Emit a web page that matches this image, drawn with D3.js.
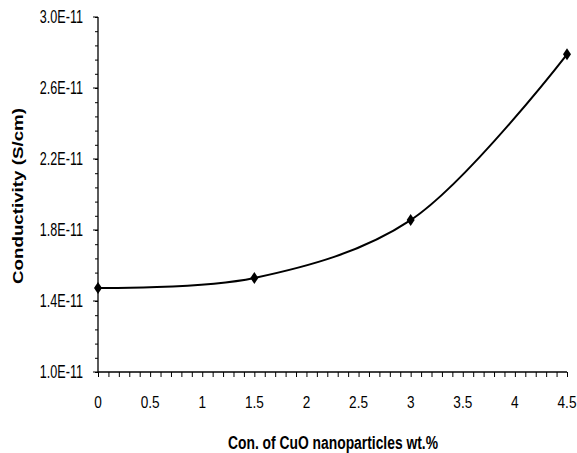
<!DOCTYPE html>
<html lang="en">
<head>
  <meta charset="utf-8">
  <title>Conductivity vs CuO</title>
  <script src="https://d3js.org/d3.v7.min.js"></script>
  <style>
    body { margin: 0; background: #fff; }
    text { fill: #000; }
  </style>
</head>
<body>
<script>
// data
var conc = [0, 1.5, 3, 4.5];
var conductivity = [1.473e-11, 1.53e-11, 1.856e-11, 2.79e-11];
var xTicks = [0, 0.5, 1, 1.5, 2, 2.5, 3, 3.5, 4, 4.5];
var yTicks = [1.0e-11, 1.4e-11, 1.8e-11, 2.2e-11, 2.6e-11, 3.0e-11];
var yTickLabels = ['1.0E-11', '1.4E-11', '1.8E-11', '2.2E-11', '2.6E-11', '3.0E-11'];

var w = 577, h = 453;
// plot box (don't call these "top" - window.top is read only)
var pLeft = 98, pRight = 567, pTop = 17, pBottom = 372;
var tickFont = "Arial, 'Liberation Sans', sans-serif";

var svg = d3.select('body').append('svg')
  .attr('width', w)
  .attr('height', h);

var x = d3.scaleLinear().domain([0, 4.5]).range([pLeft, pRight]);
var y = d3.scaleLinear().domain([1.0e-11, 3.0e-11]).range([pBottom, pTop]);

// minor ticks (Excel style: major / 5)
var xMinor = d3.range(0, 46).map(function(i) { return i / 10; });
var yMinor = d3.range(0, 26).map(function(i) { return 1.0e-11 + i * 0.08e-11; });

// x axis
var xAxis = d3.axisBottom(x)
  .tickValues(xMinor)
  .tickSize(5)
  .tickFormat('');
var gx = svg.append('g')
  .attr('transform', 'translate(0,' + pBottom + ')')
  .call(xAxis);
gx.select('.domain').attr('d', 'M' + pLeft + ',0H' + pRight).attr('stroke-width', 1.3);

// labels squeezed sideways like the original (narrow look)
svg.append('g').selectAll('text')
  .data(xTicks)
  .enter().append('text')
  .attr('transform', function(d) { return 'translate(' + x(d) + ',408) scale(0.8,1)'; })
  .attr('text-anchor', 'middle')
  .style('font-family', tickFont)
  .style('font-size', '17px')
  .text(function(d) { return d; });

// y axis
var yAxis = d3.axisLeft(y)
  .tickValues(yMinor)
  .tickSize(3)
  .tickFormat('');
var gy = svg.append('g')
  .attr('transform', 'translate(' + pLeft + ',0)')
  .call(yAxis);
gy.select('.domain').attr('d', 'M0,' + pTop + 'V' + pBottom).attr('stroke-width', 1.3);

gy.selectAll('.major')
  .data(yTicks)
  .enter().append('line')
  .attr('x1', -5).attr('x2', 0)
  .attr('y1', function(d) { return y(d); })
  .attr('y2', function(d) { return y(d); })
  .attr('stroke', '#000');

svg.append('g').selectAll('text')
  .data(yTicks)
  .enter().append('text')
  .attr('transform', function(d) { return 'translate(83,' + (y(d) + 6) + ') scale(0.7,1)'; })
  .attr('text-anchor', 'end')
  .style('font-family', tickFont)
  .style('font-size', '18px')
  .text(function(d, i) { return yTickLabels[i]; });

// titles
svg.append('text')
  .attr('x', 333)
  .attr('y', 449)
  .attr('text-anchor', 'middle')
  .attr('textLength', 210)
  .attr('lengthAdjust', 'spacingAndGlyphs')
  .style('font-family', 'Arial, Liberation Sans, sans-serif')
  .style('font-weight', 'bold')
  .style('font-size', '18px')
  .text('Con. of CuO nanoparticles wt.%');

svg.append('text')
  .attr('transform', 'translate(23,196) rotate(-90)')
  .attr('text-anchor', 'middle')
  .attr('textLength', 176)
  .attr('lengthAdjust', 'spacingAndGlyphs')
  .style('font-family', 'Arial, Liberation Sans, sans-serif')
  .style('font-weight', 'bold')
  .style('font-size', '14px')
  .text('Conductivity (S/cm)');

// smoothed line
var pts = conc.map(function(c, i) { return [c, conductivity[i]]; });
var line = d3.line()
  .x(function(d) { return x(d[0]); })
  .y(function(d) { return y(d[1]); })
  .curve(d3.curveCatmullRom.alpha(0.5));

svg.append('path')
  .datum(pts)
  .attr('d', line)
  .attr('fill', 'none')
  .attr('stroke', '#000')
  .attr('stroke-width', 2);

// diamond markers
svg.selectAll('.mark')
  .data(pts)
  .enter().append('path')
  .attr('class', 'mark')
  .attr('transform', function(d) { return 'translate(' + x(d[0]) + ',' + y(d[1]) + ')'; })
  .attr('d', 'M0,-6L4,0L0,6L-4,0Z')
  .attr('fill', '#000');
</script>
</body>
</html>
